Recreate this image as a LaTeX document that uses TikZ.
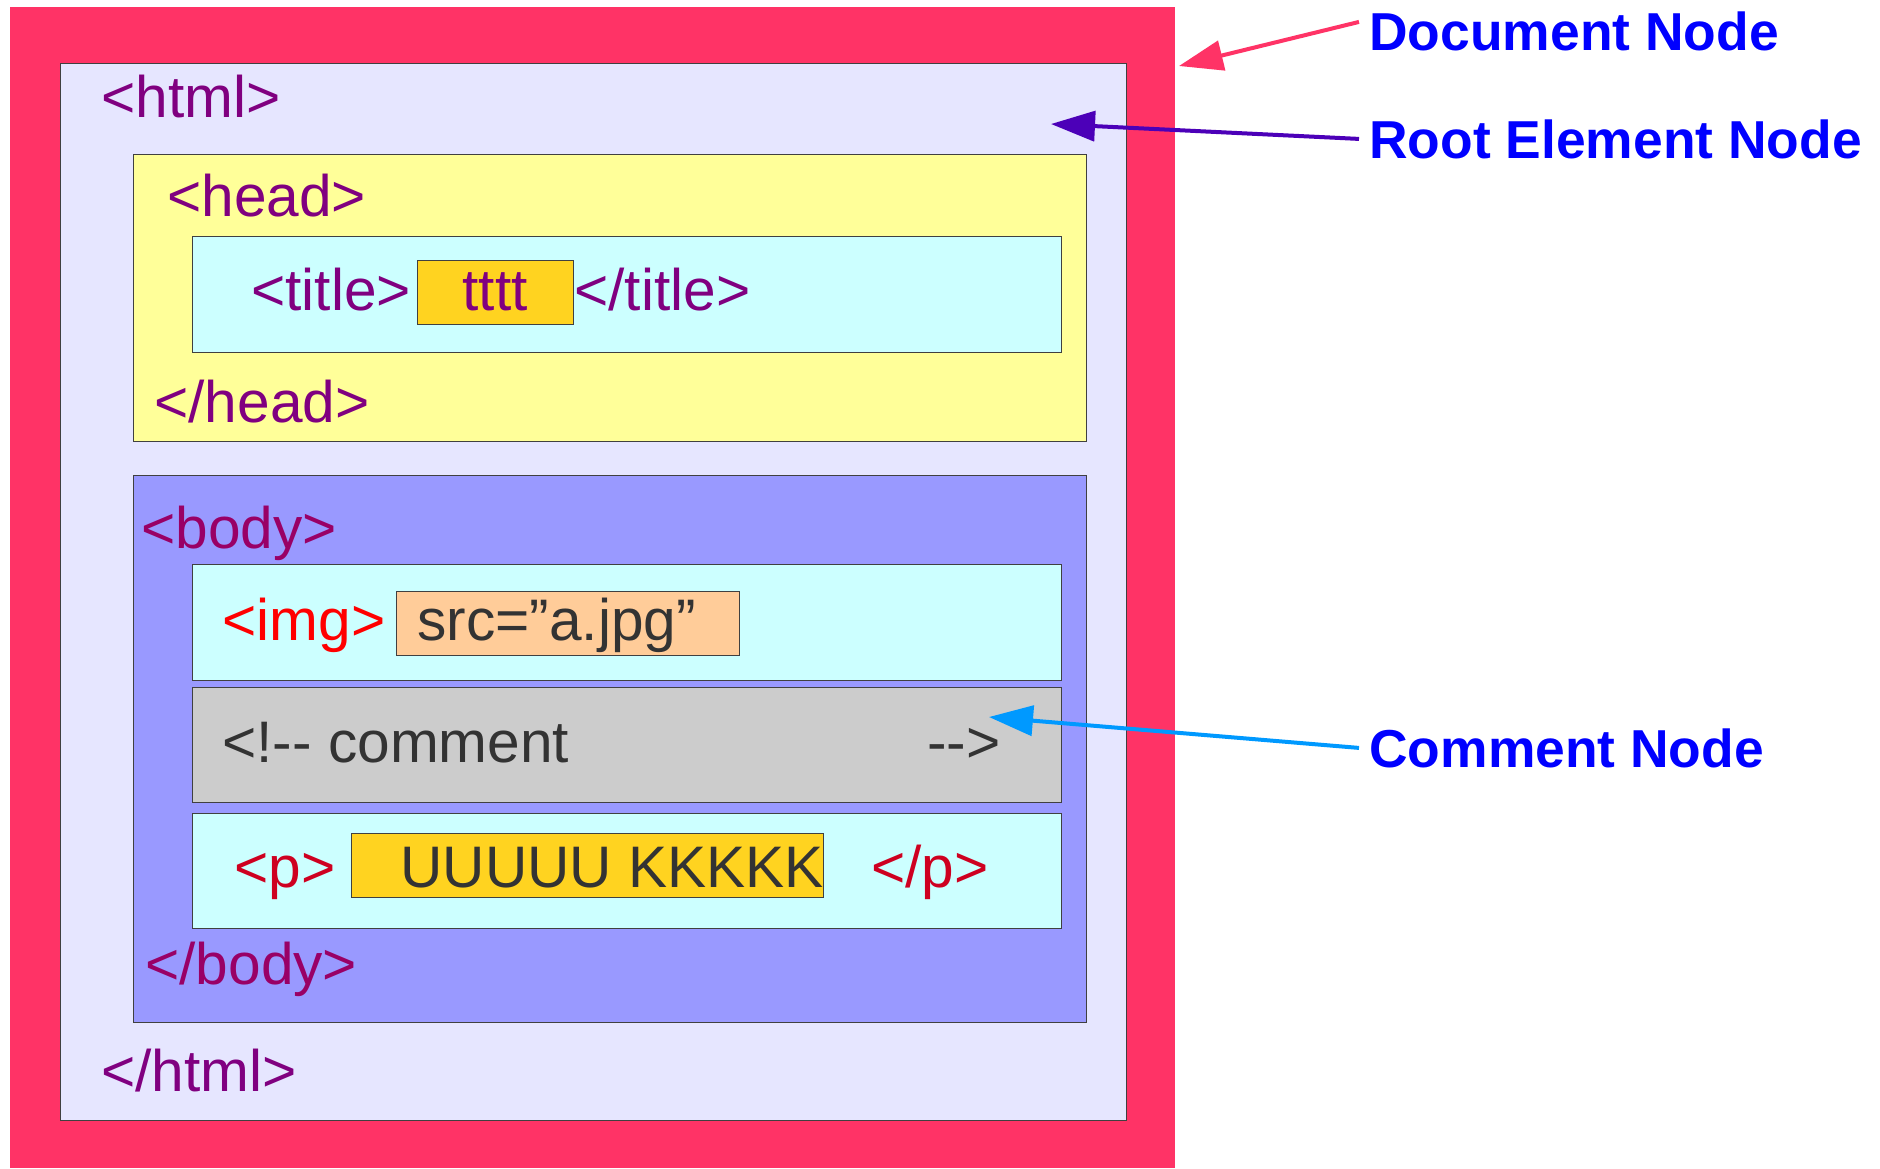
\documentclass[tikz,border=0pt]{standalone}
\usepackage{fontspec}
\setmainfont{Liberation Sans}
\usetikzlibrary{arrows.meta}

\definecolor{docred}{HTML}{FF3366}
\definecolor{htmlbg}{HTML}{E6E6FF}
\definecolor{headbg}{HTML}{FFFF99}
\definecolor{rowbg}{HTML}{CCFFFF}
\definecolor{bodybg}{HTML}{9999FF}
\definecolor{commentbg}{HTML}{CCCCCC}
\definecolor{goldbg}{HTML}{FFD320}
\definecolor{srcbg}{HTML}{FFCC99}
\definecolor{tagpurple}{HTML}{800080}
\definecolor{bodypurple}{HTML}{990066}
\definecolor{imgred}{HTML}{FF0000}
\definecolor{pred}{HTML}{CE0020}
\definecolor{darktext}{HTML}{333333}
\definecolor{labelblue}{HTML}{0000FF}
\definecolor{rootarrow}{HTML}{4C00B8}
\definecolor{commentarrow}{HTML}{0099FF}

\tikzset{
  box/.style={draw=black!75, line width=0.5pt},
  tag/.style={anchor=base west, inner sep=0pt, font=\fontsize{29.3pt}{31pt}\selectfont},
  callout/.style={anchor=base west, inner xsep=5pt, inner ysep=0pt, text=labelblue,
    font=\fontsize{26.7pt}{28pt}\selectfont\bfseries},
  pointer/.style={line width=2pt, -{Triangle[length=22pt,width=15pt]}}
}

\begin{document}
\begin{tikzpicture}[x=0.5pt,y=-0.5pt]
  \useasboundingbox (0,0) rectangle (1880,1168);
  %% document
  \fill[docred] (10,7) rectangle (1175,1168);
  %% html
  \draw[box, fill=htmlbg] (60,63) rectangle (1126,1120);
  \node[tag, text=tagpurple] (htmlopen) at (101,117) {<html>};
  \node[tag, text=tagpurple] (htmlclose) at (101,1091) {</html>};
  %% head
  \draw[box, fill=headbg] (133,154) rectangle (1086,441);
  \node[tag, text=tagpurple] (headopen) at (167,216) {<head>};
  \draw[box, fill=rowbg] (192,236) rectangle (1061,352);
  \node[tag, text=tagpurple] (titleopen) at (251,310) {<title>};
  \draw[box, fill=goldbg] (417,260) rectangle (573,324);
  \node[tag, anchor=base, text=tagpurple] (titletext) at (495,310) {tttt};
  \node[tag, text=tagpurple] (titleclose) at (574,310) {</title>};
  \node[tag, text=tagpurple] (headclose) at (154,422) {</head>};
  %% body
  \draw[box, fill=bodybg] (133,475) rectangle (1086,1022);
  \node[tag, text=bodypurple] (bodyopen) at (141,548) {<body>};
  \draw[box, fill=rowbg] (192,564) rectangle (1061,680);
  \node[tag, text=imgred] (imgtag) at (222,640) {<img>};
  \draw[box, fill=srcbg] (396,591) rectangle (739,655);
  \node[tag, text=darktext] (imgsrc) at (417,640) {src=”a.jpg”};
  \draw[box, fill=commentbg] (192,687) rectangle (1061,802);
  \node[tag, text=darktext] (commentopen) at (222,762) {<!-{}- comment};
  \node[tag, text=darktext] (commentclose) at (927,762) {-{}->};
  \draw[box, fill=rowbg] (192,813) rectangle (1061,928);
  \node[tag, text=pred] (popen) at (234,887) {<p>};
  \draw[box, fill=goldbg] (351,833) rectangle (823,897);
  \node[tag, text=darktext] (ptext) at (400,887) {UUUUU KKKKK};
  \node[tag, text=pred] (pclose) at (871,887) {</p>};
  \node[tag, text=bodypurple] (bodyclose) at (145,984) {</body>};
  %% callouts
  \node[callout] (doclabel) at (1359,50) {Document Node};
  \node[callout] (rootlabel) at (1359,158) {Root Element Node};
  \node[callout] (commentlabel) at (1359,767) {Comment Node};
  \coordinate (doctip) at (1179,66);
  \coordinate (roottip) at (1051,124);
  \coordinate (commenttip) at (989,717);
  \draw[pointer, docred] ([yshift=4.5pt]doclabel.west) -- (doctip);
  \draw[pointer, rootarrow] (rootlabel.west) -- (roottip);
  \draw[pointer, commentarrow] (commentlabel.west) -- (commenttip);
\end{tikzpicture}
\end{document}
